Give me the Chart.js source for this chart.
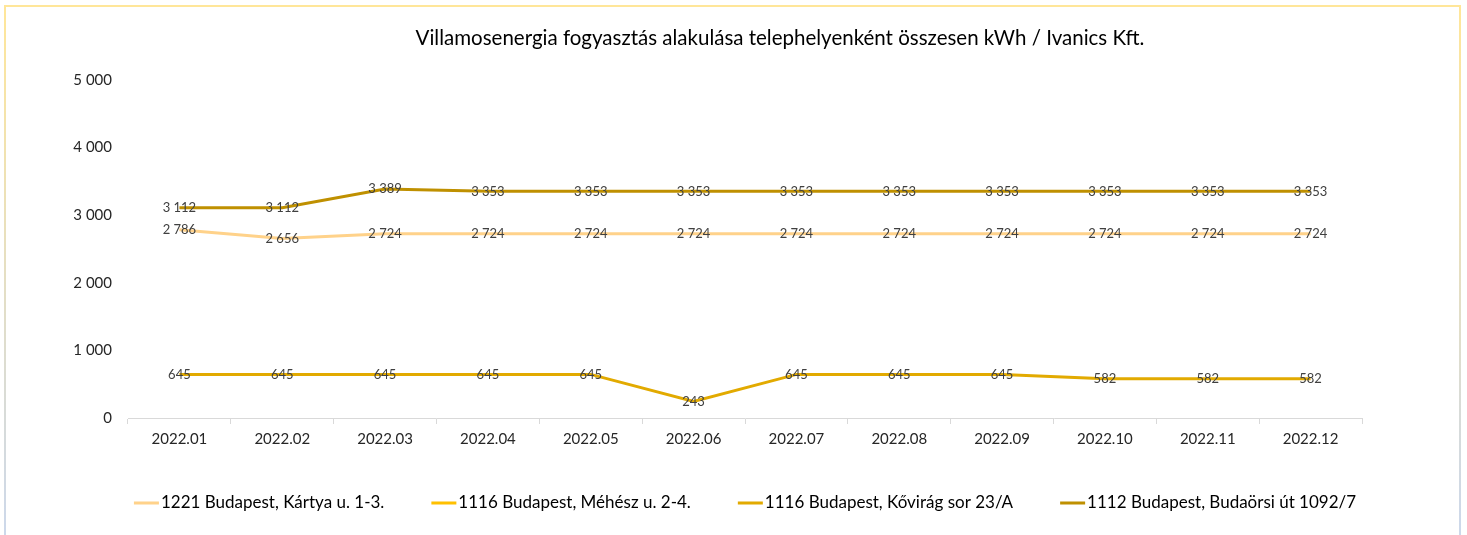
<!DOCTYPE html>
<html>
<head>
<meta charset="utf-8">
<script src="https://cdn.jsdelivr.net/npm/chart.js@4"></script>
<style>
  html, body { margin: 0; padding: 0; background: #fff; }
  #wrap { position: relative; width: 1467px; height: 535px; overflow: hidden; }
  #keret {
    position: absolute; left: 4px; top: 5px; width: 1453px; height: 560px;
    border: 2px solid #ffe699;
    border-image: linear-gradient(to bottom, #ffe699, #c9d7f0) 1;
  }
  canvas { position: absolute; left: 0; top: 0; }
</style>
</head>
<body>
<div id="wrap">
  <div id="keret"></div>
  <canvas id="grafikon" width="1467" height="535"></canvas>
</div>
<script>
// Adatok
const honapok = ['2022.01', '2022.02', '2022.03', '2022.04', '2022.05', '2022.06',
                 '2022.07', '2022.08', '2022.09', '2022.10', '2022.11', '2022.12'];
const kartya = [2786, 2656, 2724, 2724, 2724, 2724, 2724, 2724, 2724, 2724, 2724, 2724];
const mehesz = [null, null, null, null, null, null, null, null, null, null, null, null];
const kovirag = [645, 645, 645, 645, 645, 243, 645, 645, 645, 582, 582, 582];
const budaorsi = [3112, 3112, 3389, 3353, 3353, 3353, 3353, 3353, 3353, 3353, 3353, 3353];
const yTicks = [0, 1000, 2000, 3000, 4000, 5000];

const cim = 'Villamosenergia fogyasztás alakulása telephelyenként összesen kWh / Ivanics Kft.';
const betu = 'Lato, "Open Sans", sans-serif';

// ezres tagolás szóközzel
function formaz(v) {
    return String(v).replace(/\B(?=(\d{3})+(?!\d))/g, ' ');
}

function sorozat(nev, adat, szin) {
    return {
        label: nev,
        data: adat,
        borderColor: szin,
        backgroundColor: szin,
        borderWidth: 3,
        pointRadius: 0,
        tension: 0,
        spanGaps: false
    };
}

// Címkék a pontokra
const adatCimkek = {
    id: 'adatCimkek',
    afterDatasetsDraw(chart) {
        const ctx = chart.ctx;
        ctx.save();
        ctx.font = '13px ' + betu;
        ctx.fillStyle = '#404040';
        ctx.textAlign = 'center';
        ctx.textBaseline = 'middle';
        chart.data.datasets.forEach((ds, i) => {
            const meta = chart.getDatasetMeta(i);
            meta.data.forEach((pont, j) => {
                if (ds.data[j] == null) return;
                ctx.fillText(formaz(ds.data[j]), pont.x, pont.y);
            });
        });
        ctx.restore();
    }
};

// Cím és jelmagyarázat
const cimRajz = {
    id: 'cimRajz',
    afterDraw(chart) {
        const ctx = chart.ctx;
        ctx.save();
        ctx.font = '20.5px ' + betu;
        ctx.fillStyle = '#000';
        ctx.textAlign = 'center';
        ctx.textBaseline = 'middle';
        ctx.fillText(cim, 780, 38);

        // jelmagyarázat egy sorban, a rajzterület közepére igazítva
        ctx.font = '17px ' + betu;
        ctx.textAlign = 'left';
        const dss = chart.data.datasets;
        const szel = dss.map(ds => 25 + 2 + ctx.measureText(ds.label).width);
        const koz = 47;
        const ossz = szel.reduce((a, b) => a + b, 0) + koz * (dss.length - 1);
        const kozep = (chart.chartArea.left + chart.chartArea.right) / 2;
        let x = kozep - ossz / 2;
        const y = 503;
        dss.forEach((ds, i) => {
            ctx.fillStyle = ds.borderColor;
            ctx.fillRect(x, y - 1.5, 25, 3);
            ctx.fillStyle = '#000';
            ctx.fillText(ds.label, x + 27, y);
            x += szel[i] + koz;
        });
        ctx.restore();
    }
};

const ctx = document.getElementById('grafikon');
const grafikon = new Chart(ctx, {
    type: 'line',
    data: {
        labels: honapok,
        datasets: [
            sorozat('1221 Budapest, Kártya u. 1-3.', kartya, '#ffd28a'),
            sorozat('1116 Budapest, Méhész u. 2-4.', mehesz, '#ffc000'),
            sorozat('1116 Budapest, Kővirág sor 23/A', kovirag, '#e2aa00'),
            sorozat('1112 Budapest, Budaörsi út 1092/7', budaorsi, '#bf9000')
        ]
    },
    options: {
        responsive: false,
        animation: false,
        layout: { padding: { left: 0, right: 105, top: 80, bottom: 80.5 } },
        plugins: {
            title: { display: false },
            tooltip: { enabled: false },
            legend: { display: false }
        },
        scales: {
            x: {
                offset: true,
                grid: {
                    offset: true,
                    drawOnChartArea: false,
                    drawTicks: true,
                    tickLength: 6,
                    color: '#d9d9d9'
                },
                border: { color: '#d9d9d9' },
                ticks: {
                    font: { family: betu, size: 15 },
                    color: '#262626',
                    padding: 6,
                    maxRotation: 0
                },
                afterFit(scale) { scale.height = 36.5; }
            },
            y: {
                min: 0,
                max: 5000,
                afterBuildTicks(scale) { scale.ticks = yTicks.map(v => ({ value: v })); },
                grid: { display: false, drawTicks: false },
                border: { display: false },
                ticks: {
                    font: { family: betu, size: 15 },
                    color: '#262626',
                    padding: 16,
                    callback: v => formaz(v)
                },
                afterFit(scale) { scale.width = 128; }
            }
        }
    },
    plugins: [adatCimkek, cimRajz]
});
</script>
</body>
</html>
